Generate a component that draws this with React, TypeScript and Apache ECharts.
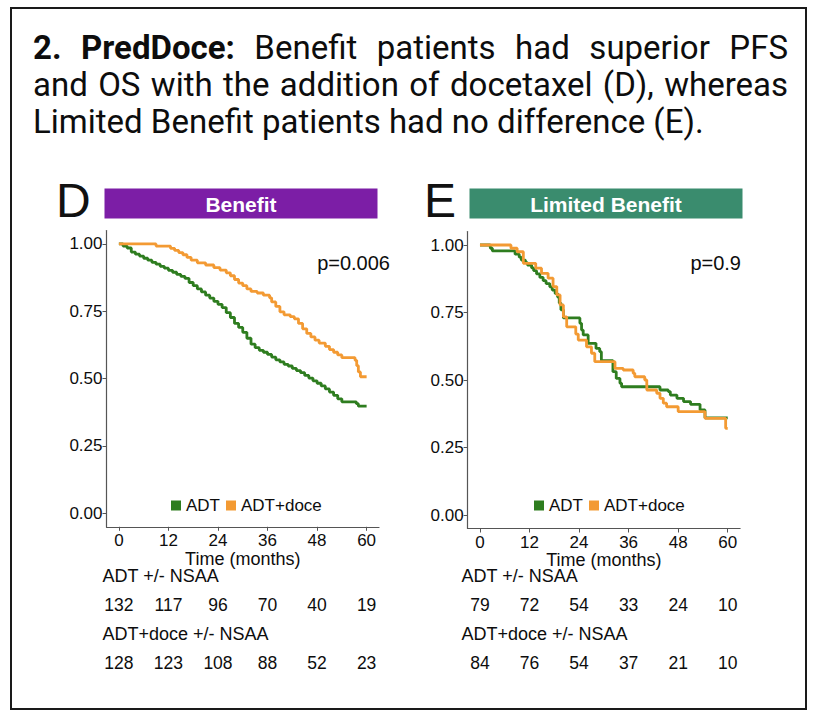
import React, { useEffect, useRef } from 'react';
import * as echarts from 'echarts';

// ---------- data ----------
const months = [0, 12, 24, 36, 48, 60];
const survTicks = [0, 0.25, 0.5, 0.75, 1];
const groups = ['ADT', 'ADT+doce'];
const panelLetters = ['D', 'E'];
const panelTitles = ['Benefit', 'Limited Benefit'];
const pValues = ['p=0.006', 'p=0.9'];
const riskRowLabels = ['ADT +/- NSAA', 'ADT+doce +/- NSAA'];
const xAxisTitle = 'Time (months)';

// Kaplan–Meier steps: [month, survival after step]
const benefitAdt: [number, number][] = [
  [0, 1.0], [1, 0.992], [2, 0.985], [3, 0.97], [4, 0.962], [5, 0.955], [6, 0.947], [7, 0.94],
  [8, 0.932], [9, 0.925], [10, 0.917], [11, 0.91], [12, 0.902], [13, 0.895], [14, 0.887],
  [15, 0.88], [16, 0.872], [17, 0.857], [18, 0.845], [19, 0.833], [20, 0.822], [21, 0.81],
  [22, 0.799], [23, 0.787], [24, 0.776], [25, 0.764], [26, 0.745], [27, 0.727], [28, 0.705],
  [29, 0.69], [30, 0.672], [31, 0.65], [32, 0.628], [33, 0.615], [34, 0.605], [35, 0.598],
  [36, 0.59], [37, 0.58], [38, 0.57], [39, 0.562], [40, 0.553], [41, 0.547], [42, 0.538],
  [43, 0.53], [44, 0.522], [45, 0.512], [46, 0.502], [47, 0.492], [48, 0.483], [49, 0.473],
  [50, 0.462], [51, 0.45], [52, 0.438], [53, 0.425], [54, 0.414], [57.5, 0.407], [58, 0.398],
  [60, 0.398],
];
const benefitDoce: [number, number][] = [
  [0, 1.0], [9, 0.992], [12.5, 0.984], [13.5, 0.976], [14.5, 0.968], [15.5, 0.96], [16.5, 0.95],
  [17.5, 0.94], [19, 0.93], [21, 0.922], [23, 0.912], [24.5, 0.903], [26, 0.893], [27, 0.882],
  [28, 0.868], [29, 0.855], [30, 0.845], [31, 0.833], [32, 0.824], [33.5, 0.818], [35, 0.81],
  [36.5, 0.8], [37, 0.785], [38, 0.768], [39, 0.748], [40, 0.737], [41.5, 0.73], [42.5, 0.722],
  [43.5, 0.705], [44.5, 0.685], [45.5, 0.668], [46.5, 0.655], [47.5, 0.643], [48.5, 0.632],
  [50, 0.62], [51, 0.608], [52, 0.598], [53, 0.588], [54, 0.578], [57.2, 0.568], [57.6, 0.548],
  [58, 0.525], [58.5, 0.507], [60, 0.507],
];
const limitedAdt: [number, number][] = [
  [0, 1.0], [2.5, 0.988], [3, 0.978], [8.5, 0.966], [9.5, 0.955], [10, 0.944], [11, 0.935],
  [11.5, 0.926], [12.5, 0.915], [13, 0.905], [13.7, 0.893], [14.5, 0.88], [15.3, 0.868],
  [16, 0.857], [16.9, 0.845], [17.5, 0.833], [18.2, 0.82], [18.8, 0.807], [19.2, 0.785],
  [19.6, 0.76], [20.2, 0.73], [24.2, 0.71], [24.6, 0.685], [25, 0.667], [26.2, 0.636],
  [28.1, 0.617], [29, 0.605], [29.4, 0.572], [32.2, 0.531], [33, 0.506], [33.9, 0.488],
  [34.3, 0.475], [43.6, 0.463], [45.6, 0.457], [46.1, 0.444], [47.7, 0.432], [49.3, 0.42],
  [51, 0.41], [53.3, 0.389], [54.5, 0.36], [60, 0.358],
];
const limitedDoce: [number, number][] = [
  [0, 1.0], [7.5, 0.988], [9, 0.975], [10.5, 0.932], [13.5, 0.914], [14.9, 0.895], [16.5, 0.877],
  [17.7, 0.846], [18.6, 0.815], [19.4, 0.778], [20.2, 0.734], [21, 0.697], [23.2, 0.67],
  [23.8, 0.648], [25.8, 0.623], [27, 0.599], [27.8, 0.568], [32.7, 0.543], [34.7, 0.537],
  [37.1, 0.525], [37.5, 0.512], [39.9, 0.5], [40.4, 0.463], [42.8, 0.451], [43.6, 0.432],
  [44.4, 0.414], [45.2, 0.401], [48, 0.383], [54.5, 0.358], [59.5, 0.321], [60, 0.321],
];

const benefitRiskAdt = [132, 117, 96, 70, 40, 19];
const benefitRiskDoce = [128, 123, 108, 88, 52, 23];
const limitedRiskAdt = [79, 72, 54, 33, 24, 10];
const limitedRiskDoce = [84, 76, 54, 37, 21, 10];

const headlineLine1 = [
  { t: '2.', b: true }, { t: 'PredDoce:', b: true }, { t: 'Benefit', b: false },
  { t: 'patients', b: false }, { t: 'had', b: false }, { t: 'superior', b: false }, { t: 'PFS', b: false },
];
const headlineLine2 = ['and', 'OS', 'with', 'the', 'addition', 'of', 'docetaxel', '(D),', 'whereas'];
const headlineLine3 = 'Limited Benefit patients had no difference (E).';

// ---------- styles ----------
const GREEN = '#2E7D1F';
const ORANGE = '#F39A33';
const PURPLE = '#7C1EA6';
const TEAL = '#3A8C6E';
const AX = 'Liberation Sans, Arial, sans-serif';
const TITLE_FONT = 'Roboto, sans-serif';
const TITLE_SIZE = 33;
const INK = '#0d0d0d';

export default function App() {
  const ref = useRef<HTMLDivElement>(null);

  useEffect(() => {
    if (!ref.current) return;
    const chart = echarts.init(ref.current, undefined, { renderer: 'svg' });

    const ctx = document.createElement('canvas').getContext('2d')!;
    const measure = (text: string, bold: boolean) => {
      ctx.font = `${bold ? 'bold ' : ''}${TITLE_SIZE}px ${TITLE_FONT}`;
      return ctx.measureText(text).width;
    };
    const justify = (words: { t: string; b: boolean }[], left: number, right: number, y: number) => {
      const widths = words.map((w) => measure(w.t, w.b));
      const total = widths.reduce((a, c) => a + c, 0);
      const gap = (right - left - total) / (words.length - 1);
      let x = left;
      return words.map((w, i) => {
        const el = {
          type: 'text', x, y,
          style: {
            text: w.t, fill: INK, font: `${w.b ? 'bold ' : ''}${TITLE_SIZE}px ${TITLE_FONT}`,
            verticalAlign: 'middle', align: 'left',
          },
        };
        x += widths[i] + gap;
        return el;
      });
    };

    const TL = 33, TR = 788;
    const graphics: any[] = [
      { type: 'rect', shape: { x: 11, y: 8, width: 795, height: 701 }, style: { fill: 'none', stroke: '#1a1a1a', lineWidth: 2 } },
      ...justify(headlineLine1, TL, TR, 47),
      ...justify(headlineLine2.map((t) => ({ t, b: false })), TL, TR, 84),
      { type: 'text', x: TL, y: 121, style: { text: headlineLine3, fill: INK, font: `${TITLE_SIZE}px ${TITLE_FONT}`, verticalAlign: 'middle' } },
    ];

    const panelX = [
      { letterX: 56, barX: 104.5, barW: 273, pX: 390, rowX: 102.5 },
      { letterX: 424, barX: 469.5, barW: 273, pX: 741, rowX: 461.5 },
    ];
    const barColors = [PURPLE, TEAL];
    panelX.forEach((p, i) => {
      graphics.push(
        { type: 'text', x: p.letterX, y: 200, style: { text: panelLetters[i], fill: '#111', font: `300 48px ${AX}`, verticalAlign: 'middle' } },
        { type: 'rect', shape: { x: p.barX, y: 188.5, width: p.barW, height: 30 }, style: { fill: barColors[i] } },
        { type: 'text', x: p.barX + p.barW / 2, y: 204, style: { text: panelTitles[i], fill: '#fff', font: `bold 21px ${AX}`, align: 'center', verticalAlign: 'middle' } },
        { type: 'text', x: p.pX, y: 263, style: { text: pValues[i], fill: INK, font: `20px ${AX}`, align: 'right', verticalAlign: 'middle' } },
        { type: 'text', x: p.rowX, y: 576, style: { text: riskRowLabels[0], fill: INK, font: `18px ${AX}`, verticalAlign: 'middle' } },
        { type: 'text', x: p.rowX, y: 634, style: { text: riskRowLabels[1], fill: INK, font: `18px ${AX}`, verticalAlign: 'middle' } },
      );
    });

    const plotGrids = [
      { left: 106.5, top: 230.5, width: 272.5, height: 296.3 },
      { left: 467.6, top: 231.5, width: 272.5, height: 297 },
    ];
    const riskGrids = [
      { left: 106.5, top: 561, width: 272.5, height: 116 },
      { left: 467.6, top: 561, width: 272.5, height: 116 },
    ];

    const plotX = (gi: number) => ({
      type: 'value', gridIndex: gi, min: -3, max: 63,
      name: xAxisTitle, nameLocation: 'middle', nameGap: 18,
      nameTextStyle: { fontFamily: AX, fontSize: 18, color: INK },
      axisLine: { show: true, onZero: false, lineStyle: { color: '#555', width: 1.2 } },
      axisTick: { show: true, length: 4, customValues: months, lineStyle: { color: '#555' } },
      axisLabel: { customValues: months, margin: 5, fontFamily: AX, fontSize: 17, color: INK },
      splitLine: { show: false },
    });
    const plotY = (gi: number) => ({
      type: 'value', gridIndex: gi, min: -0.05, max: 1.05,
      axisLine: { show: true, onZero: false, lineStyle: { color: '#555', width: 1.2 } },
      axisTick: { show: true, length: 4, customValues: survTicks, lineStyle: { color: '#555' } },
      axisLabel: { customValues: survTicks, margin: 4, fontFamily: AX, fontSize: 17, color: INK, formatter: (v: number) => v.toFixed(2) },
      splitLine: { show: false },
    });
    const riskX = (gi: number) => ({ type: 'value', gridIndex: gi, min: -3, max: 63, show: false });
    const riskY = (gi: number) => ({ type: 'value', gridIndex: gi, min: 0, max: 4, show: false });

    const km = (name: string, color: string, data: [number, number][], idx: number) => ({
      type: 'line', name, step: 'end', data, symbol: 'none', xAxisIndex: idx, yAxisIndex: idx,
      lineStyle: { color, width: 2.8 }, itemStyle: { color }, silent: true,
    });
    const risk = (id: string, values: number[], row: number, idx: number) => ({
      type: 'scatter', name: id, xAxisIndex: idx, yAxisIndex: idx, silent: true,
      symbolSize: 0, itemStyle: { color: INK, opacity: 1 },
      data: months.map((m, i) => [m, row, values[i]]),
      label: { show: true, position: 'inside', formatter: (p: any) => String(p.value[2]), fontFamily: AX, fontSize: 17.5, color: INK, opacity: 1 },
    });

    const legend = (left: number) => ({
      data: groups, left, top: 492, icon: 'rect', itemWidth: 10, itemHeight: 10, itemGap: 6,
      textStyle: { fontFamily: AX, fontSize: 17, color: INK }, selectedMode: false,
    });

    chart.setOption({
      animation: false,
      backgroundColor: '#fff',
      grid: [...plotGrids, ...riskGrids],
      xAxis: [plotX(0), plotX(1), riskX(2), riskX(3)],
      yAxis: [plotY(0), plotY(1), riskY(2), riskY(3)],
      legend: [legend(166), legend(529)],
      series: [
        km(groups[0], GREEN, benefitAdt, 0),
        km(groups[1], ORANGE, benefitDoce, 0),
        km(groups[0], GREEN, limitedAdt, 1),
        km(groups[1], ORANGE, limitedDoce, 1),
        risk('risk-benefit-adt', benefitRiskAdt, 2.5, 2),
        risk('risk-benefit-doce', benefitRiskDoce, 0.5, 2),
        risk('risk-limited-adt', limitedRiskAdt, 2.5, 3),
        risk('risk-limited-doce', limitedRiskDoce, 0.5, 3),
      ],
      graphic: graphics,
    });

    return () => chart.dispose();
  }, []);

  return <div ref={ref} style={{ position: 'fixed', left: 0, top: 0, width: 818, height: 722 }} />;
}
